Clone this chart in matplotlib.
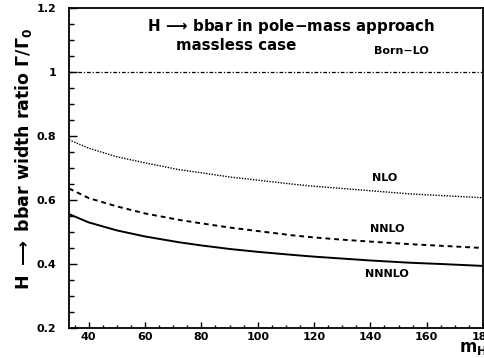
import matplotlib
matplotlib.use("Agg")
import matplotlib.pyplot as plt
from matplotlib.ticker import MultipleLocator

# Higgs mass points and width ratios
m_h = [33, 40, 50, 60, 72, 80, 90, 100, 113, 120, 130, 140, 154, 165, 180]
born_lo = [1.0] * len(m_h)
nlo = [0.788, 0.762, 0.735, 0.716, 0.695, 0.685, 0.672, 0.662, 0.649, 0.643,
       0.636, 0.629, 0.619, 0.614, 0.607]
nnlo = [0.636, 0.606, 0.580, 0.558, 0.538, 0.527, 0.514, 0.503, 0.489, 0.483,
        0.476, 0.470, 0.462, 0.457, 0.450]
nnnlo = [0.556, 0.530, 0.505, 0.486, 0.468, 0.458, 0.447, 0.438, 0.428, 0.423,
         0.417, 0.411, 0.404, 0.400, 0.394]

plt.rcParams['font.family'] = 'DejaVu Sans'
plt.rcParams['font.weight'] = 'bold'
plt.rcParams['mathtext.default'] = 'bf'

fig = plt.figure(figsize=(4.85, 3.58), dpi=100)
ax = fig.add_axes([69 / 485, 30 / 358, 414 / 485, 320 / 358])

ax.plot(m_h, born_lo, color='black', lw=0.9, linestyle=(0, (3, 1.5, 1, 1.5)))
ax.plot(m_h, nlo, color='black', lw=1.0, linestyle=(0, (1, 1)))
ax.plot(m_h, nnlo, color='black', lw=1.4, linestyle=(0, (2.5, 2)))
ax.plot(m_h, nnnlo, color='black', lw=1.4)

ax.set_xlim(33, 180)
ax.set_ylim(0.2, 1.2)
ax.set_xticks([40, 60, 80, 100, 120, 140, 160, 180])
ax.set_xticklabels(['40', '60', '80', '100', '120', '140', '160', '180'])
ax.set_yticks([0.2, 0.4, 0.6, 0.8, 1.0, 1.2])
ax.set_yticklabels(['0.2', '0.4', '0.6', '0.8', '1', '1.2'])
ax.xaxis.set_minor_locator(MultipleLocator(5))
ax.yaxis.set_minor_locator(MultipleLocator(0.05))
ax.tick_params(axis='both', which='both', direction='in', top=False, right=False,
               labelsize=8, width=1)
ax.tick_params(axis='y', which='major', length=6, pad=9)
ax.tick_params(axis='y', which='minor', length=3.5)
ax.tick_params(axis='x', which='major', length=4, pad=3)
ax.tick_params(axis='x', which='minor', length=2)
for lab in ax.get_xticklabels() + ax.get_yticklabels():
    lab.set_fontweight('bold')
for sp in ax.spines.values():
    sp.set_linewidth(1.3)

ax.set_ylabel(r'H $\longrightarrow$ bbar width ratio $\Gamma/\Gamma_0$',
              fontsize=12.5, fontweight='bold')
ax.yaxis.set_label_coords(-0.085, 0.53)

ax.text(147 / 485, 1 - 27 / 358, r'H$\,\longrightarrow\,$bbar in pole$-$mass approach',
        transform=fig.transFigure, fontsize=10.8, fontweight='bold', va='center')
ax.text(176 / 485, 1 - 45 / 358, 'massless case',
        transform=fig.transFigure, fontsize=10.8, fontweight='bold', va='center')

ax.text(151, 1.066, 'Born\u2212LO', fontsize=8, fontweight='bold', ha='center', va='center')
ax.text(145, 0.669, 'NLO', fontsize=8, fontweight='bold', ha='center', va='center')
ax.text(146, 0.509, 'NNLO', fontsize=8, fontweight='bold', ha='center', va='center')
ax.text(146, 0.368, 'NNNLO', fontsize=8, fontweight='bold', ha='center', va='center')

fig.text(459 / 485, 1 - 348 / 358, r'$m_H$', fontsize=12, va='center', ha='left')

fig.savefig('out.png', dpi=100)
